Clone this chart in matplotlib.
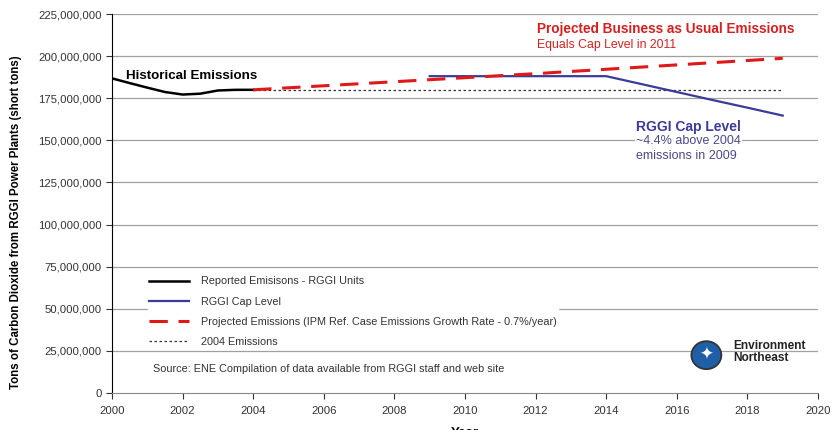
import matplotlib.pyplot as plt
from matplotlib.patches import Ellipse
from matplotlib.ticker import FuncFormatter

plt.rcParams['font.family'] = ['Liberation Sans', 'DejaVu Sans']

# historical reported emissions (short tons)
hist_years = [2000, 2000.5, 2001, 2001.5, 2002, 2002.5, 2003, 2003.5, 2004]
hist_vals = [186.8e6, 184.0e6, 181.3e6, 178.7e6, 177.2e6, 177.7e6, 179.6e6, 180.0e6, 180.0e6]

# RGGI cap level
cap_years = [2009, 2010, 2011, 2012, 2013, 2014, 2015, 2016, 2017, 2018, 2019]
cap_vals = [188.1e6, 188.1e6, 188.1e6, 188.1e6, 188.1e6, 188.1e6,
            183.4e6, 178.7e6, 174.0e6, 169.4e6, 164.7e6]

# projected BAU emissions (0.7%/yr)
proj_years = [2004, 2005, 2006, 2007, 2008, 2009, 2010, 2011, 2012,
              2013, 2014, 2015, 2016, 2017, 2018, 2019]
proj_vals = [180.0e6, 181.2e6, 182.4e6, 183.6e6, 184.8e6, 186.0e6, 187.2e6, 188.4e6,
             189.6e6, 190.9e6, 192.2e6, 193.5e6, 194.8e6, 196.1e6, 197.4e6, 198.7e6]

# 2004 emissions reference
ref_years = [2004, 2019]
ref_vals = [180.0e6, 180.0e6]

y_ticks = [0, 25e6, 50e6, 75e6, 100e6, 125e6, 150e6, 175e6, 200e6, 225e6]
x_ticks = list(range(2000, 2021, 2))

fig = plt.figure(figsize=(8.32, 4.30), dpi=100)
ax = fig.add_axes([0.1346, 0.086, 0.8486, 0.8814])

for t in y_ticks[1:]:
    ax.axhline(t, color='#a0a0a0', lw=0.9, zorder=0)

ax.plot(ref_years, ref_vals, color='#333333', lw=0.9, ls=(0, (2, 2)), zorder=2,
        label='2004 Emissions')
ax.plot(hist_years, hist_vals, color='black', lw=1.8, zorder=4,
        label='Reported Emisisons - RGGI Units')
ax.plot(cap_years, cap_vals, color='#3b3b98', lw=1.6, zorder=3, label='RGGI Cap Level')
ax.plot(proj_years, proj_vals, color='#e01818', lw=2.2, dashes=(6, 3.5), zorder=5,
        label='Projected Emissions (IPM Ref. Case Emissions Growth Rate - 0.7%/year)')

ax.set_xlim(2000, 2020)
ax.set_ylim(0, 225e6)
ax.set_xticks(x_ticks)
ax.set_yticks(y_ticks)
ax.yaxis.set_major_formatter(FuncFormatter(lambda v, p: f'{int(v):,}'))
ax.tick_params(axis='both', labelsize=8.2, colors='#333333', length=4, width=0.8)
ax.tick_params(axis='x', pad=5)
for s in ['top', 'right']:
    ax.spines[s].set_visible(False)
ax.spines['left'].set_color('black')
ax.spines['bottom'].set_color('#888888')

ax.set_ylabel('Tons of Carbon Dioxide from RGGI Power Plants (short tons)',
              fontsize=8.3, fontweight='bold')
ax.yaxis.set_label_coords(-0.128, 0.45)
ax.set_xlabel('Year', fontsize=9.5, fontweight='bold', labelpad=8)

handles, labels = ax.get_legend_handles_labels()
order = [1, 2, 3, 0]
leg = ax.legend([handles[i] for i in order], [labels[i] for i in order],
                loc='upper left', bbox_to_anchor=(0.043, 0.325), fontsize=7.8,
                frameon=True, facecolor='white', edgecolor='white', fancybox=False,
                framealpha=1, handlelength=3.7, handletextpad=1.1,
                labelspacing=0.95, borderpad=0.1)
for txt in leg.get_texts():
    txt.set_color('#333333')

ax.text(2001.15, 14e6, 'Source: ENE Compilation of data available from RGGI staff and web site',
        fontsize=7.8, color='#333333', va='center')

ax.text(2000.4, 188.5e6, 'Historical Emissions', fontsize=9.6, fontweight='bold', va='center')
ax.text(2012.05, 216e6, 'Projected Business as Usual Emissions', fontsize=9.8,
        fontweight='bold', color='#d42020', va='center')
ax.text(2012.05, 206.5e6, 'Equals Cap Level in 2011', fontsize=8.8, color='#d42020', va='center')
ax.text(2014.85, 158e6, 'RGGI Cap Level', fontsize=10, fontweight='bold',
        color='#3b3b98', va='center', bbox=dict(facecolor='white', edgecolor='none', pad=1))
ax.text(2014.85, 149.5e6, '~4.4% above 2004', fontsize=9, color='#4a4a8a', va='center',
        bbox=dict(facecolor='white', edgecolor='none', pad=1))
ax.text(2014.85, 140.5e6, 'emissions in 2009', fontsize=9, color='#4a4a8a', va='center')

# Environment Northeast logo
logo = Ellipse((0.849, 0.174), 0.036, 0.065, transform=fig.transFigure,
               facecolor='#1f5fa8', edgecolor='#333333', lw=1.3)
fig.patches.append(logo)
fig.text(0.849, 0.174, '✦', fontsize=12, color='white', ha='center', va='center')
fig.text(0.881, 0.195, 'Environment', fontsize=8.6, fontweight='bold', color='#222222', va='center')
fig.text(0.881, 0.168, 'Northeast', fontsize=8.6, fontweight='bold', color='#222222', va='center')

fig.savefig('out.png', dpi=100)
